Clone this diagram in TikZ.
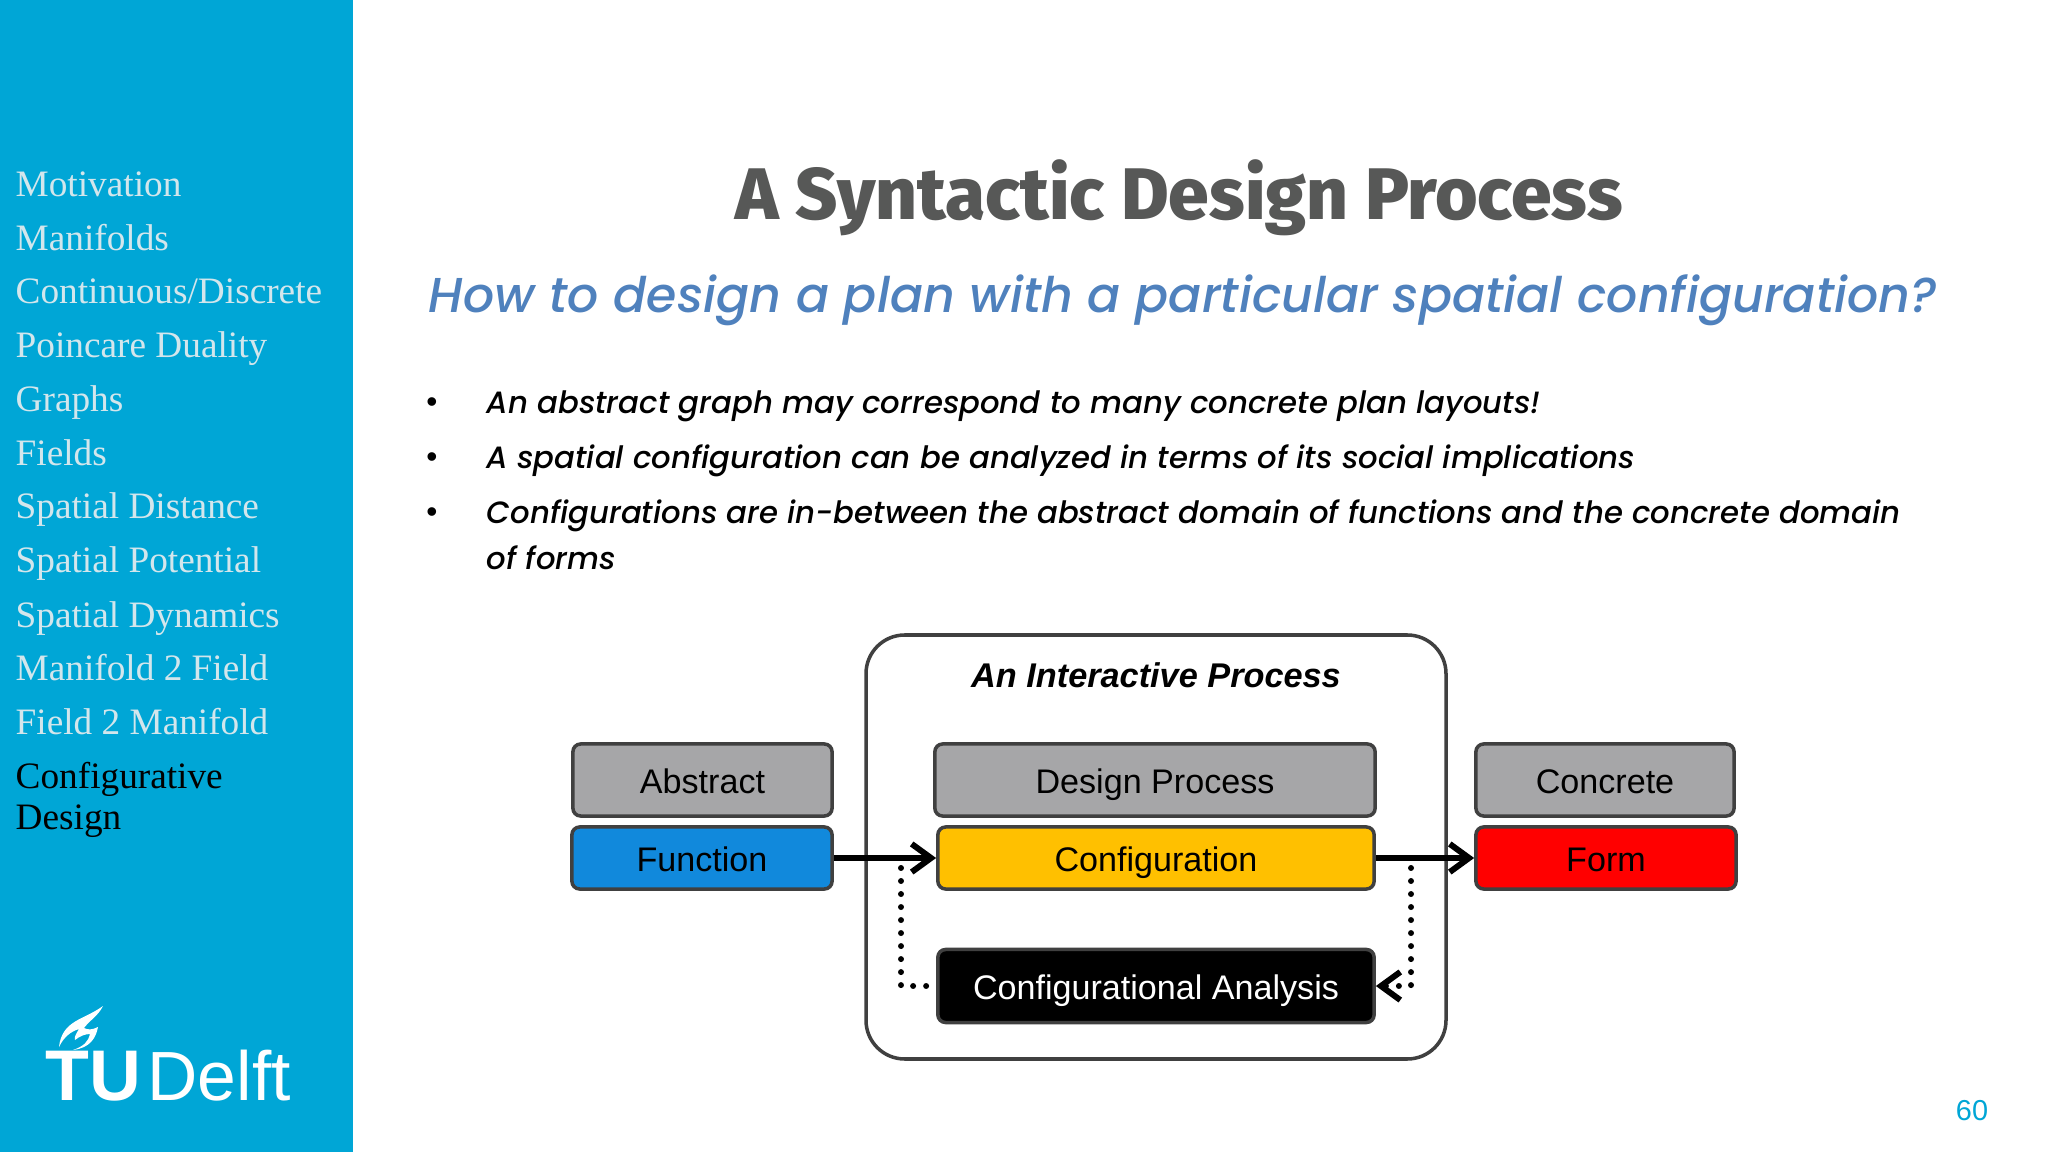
\documentclass[tikz,border=0pt]{standalone}
\usepackage{fontspec}
\setmainfont{Liberation Sans}
\newfontfamily\sidefont{Liberation Serif}
\newfontfamily\titlefont{Fira Sans ExtraBold}
\newfontfamily\slidefont{Poppins Medium}
\usetikzlibrary{arrows.meta}
\definecolor{tudblue}{HTML}{00A6D6}
\definecolor{sidegrey}{HTML}{D3E6EC}
\definecolor{titlegrey}{HTML}{575857}
\definecolor{subblue}{HTML}{4F81BD}
\definecolor{boxgrey}{HTML}{A6A6A8}
\definecolor{edgegrey}{HTML}{404040}
\definecolor{funcblue}{HTML}{1189DC}
\definecolor{confyellow}{HTML}{FFC000}
\tikzset{
	sideitem/.style={anchor=base west,inner sep=0pt,text=sidegrey,font=\sidefont\fontsize{10.6}{13}\selectfont},
	bulletline/.style={anchor=base west,inner sep=0pt,font=\slidefont\itshape\fontsize{8.75}{10}\selectfont},
	bulletdot/.style={anchor=center,inner sep=0pt,font=\fontsize{9}{10}\selectfont},
	procbox/.style={draw=edgegrey,line width=1pt,rounded corners=2.2pt,inner sep=0pt,text height=9.9pt,text depth=2pt,font=\fontsize{9.7}{12}\selectfont},
	flowarrow/.style={line width=1.7pt,-{Straight Barb[length=5.5pt,width=8pt,line width=1.7pt]}},
	dotline/.style={line width=1.7pt,line cap=round,dash pattern=on 0pt off 3.7pt},
}
\begin{document}
\begin{tikzpicture}[x=0.01cm,y=-0.01cm]
	\useasboundingbox (0,0) rectangle (2048,1152);
	%\draw[step=1cm,very thin,color=gray] (0,0) grid (2048,1152);
	\fill[white] (0,0) rectangle (2048,1152);
	\fill[tudblue] (0,0) rectangle (353,1152);
	% side menu
	\node[sideitem] (menua) at (15,197) {Motivation};
	\node[sideitem] (menub) at (15,251) {Manifolds};
	\node[sideitem] (menuc) at (15,304) {Continuous/Discrete};
	\node[sideitem] (menud) at (15,358) {Poincare Duality};
	\node[sideitem] (menue) at (15,412) {Graphs};
	\node[sideitem] (menuf) at (15,466) {Fields};
	\node[sideitem] (menug) at (15,519) {Spatial Distance};
	\node[sideitem] (menuh) at (15,573) {Spatial Potential};
	\node[sideitem] (menui) at (15,627) {Spatial Dynamics};
	\node[sideitem] (menuj) at (15,680) {Manifold 2 Field};
	\node[sideitem] (menuk) at (15,734) {Field 2 Manifold};
	\node[sideitem,text=black] (menul) at (15,788) {Configurative};
	\node[sideitem,text=black] (menum) at (15,829) {Design};
	% logo
	\fill[white] (103,1006) .. controls (84,1020) and (62,1020) .. (59,1047) .. controls (64,1037) and (70,1032) .. (79,1029) .. controls (76,1034) and (74,1037) .. (75,1040) .. controls (80,1036) and (85,1034) .. (90,1034) .. controls (88,1042) and (84,1046) .. (73,1050) .. controls (90,1048) and (96,1038) .. (98,1027) .. controls (92,1030) and (88,1030) .. (84,1028) .. controls (90,1020) and (98,1016) .. (103,1006) -- cycle;
	\node[anchor=base west,inner sep=0pt,text=white,font=\fontsize{20.4}{20}\selectfont\bfseries] (logotu) at (45,1100) {TU};
	\node[anchor=base west,inner sep=0pt,text=white,font=\fontsize{19.8}{20}\selectfont] (logodelft) at (147,1100) {Delft};
	% heading
	\node[inner sep=0pt,text=titlegrey,font=\titlefont\fontsize{20.75}{24}\selectfont] (heading) at (1179,198) {A Syntactic Design Process};
	\node[anchor=base west,inner sep=0pt,text=subblue,font=\slidefont\itshape\fontsize{13.93}{16}\selectfont] (question) at (428,313) {How to design a plan with a particular spatial configuration?};
	% bullets
	\node[bulletdot] (dota) at (432,405) {•};
	\node[bulletline] (linea) at (486,414) {An abstract graph may correspond to many concrete plan layouts!};
	\node[bulletdot] (dotb) at (432,460) {•};
	\node[bulletline] (lineb) at (486,469) {A spatial configuration can be analyzed in terms of its social implications};
	\node[bulletdot] (dotc) at (432,515) {•};
	\node[bulletline] (linec) at (486,524) {Configurations are in-between the abstract domain of functions and the concrete domain};
	\node[bulletline] (lined) at (486,570) {of forms};
	% process diagram
	\draw[edgegrey,line width=1pt,rounded corners=11pt] (866,635) rectangle (1446,1059);
	\node[font=\fontsize{9.75}{12}\selectfont\bfseries\itshape,inner sep=0pt] (boxtitle) at (1156,675) {An Interactive Process};
	\node[procbox,fill=boxgrey,minimum width=2.59cm,minimum height=0.72cm] (abstract) at (702.5,780) {Abstract};
	\node[procbox,fill=boxgrey,minimum width=4.40cm,minimum height=0.72cm] (design) at (1155,780) {Design Process};
	\node[procbox,fill=boxgrey,minimum width=2.58cm,minimum height=0.72cm] (concrete) at (1605,780) {Concrete};
	\node[procbox,fill=funcblue,minimum width=2.60cm,minimum height=0.62cm] (function) at (702,858) {Function};
	\node[procbox,fill=confyellow,minimum width=4.36cm,minimum height=0.62cm] (configuration) at (1156,858) {Configuration};
	\node[procbox,fill=red,minimum width=2.60cm,minimum height=0.62cm] (form) at (1606,858) {Form};
	\node[procbox,fill=black,text=white,minimum width=4.36cm,minimum height=0.73cm] (analysis) at (1156,986) {Configurational Analysis};
	\coordinate (loopleft) at (901,868);
	\coordinate (loopright) at (1411,868);
	\draw[flowarrow] (function) -- (configuration);
	\draw[flowarrow] (configuration) -- (form);
	\draw[dotline,shorten >=1.5pt] (loopleft) |- (analysis.west);
	\draw[dotline] (loopright) |- (1385,986);
	\draw[flowarrow] (1383,986) -- (analysis.east);
	% page number
	\node[inner sep=0pt,text=tudblue,font=\fontsize{8.2}{10}\selectfont] (pagenum) at (1972,1111) {60};
\end{tikzpicture}
\end{document}
